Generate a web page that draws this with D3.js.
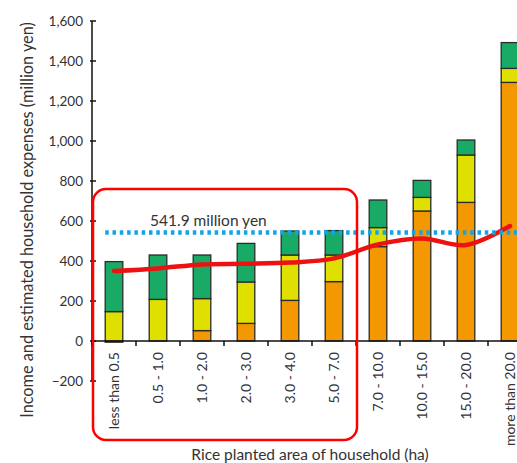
<!DOCTYPE html>
<html>
<head>
<meta charset="utf-8">
<style>
  body { margin: 0; background: #fff; }
  text { font-family: Lato, "Open Sans", sans-serif; fill: #333; }
</style>
</head>
<body>
<script src="https://cdn.jsdelivr.net/npm/d3@7"></script>
<script>
  // categories (rice planted area, ha)
  const categories = ['less than 0.5', '0.5 - 1.0', '1.0 - 2.0', '2.0 - 3.0', '3.0 - 4.0',
    '5.0 - 7.0', '7.0 - 10.0', '10.0 - 15.0', '15.0 - 20.0', 'more than 20.0'];

  // stacked income parts (million yen), bottom to top
  const partA = [-6, 0, 52, 88, 203, 297, 472, 650, 693, 1293];
  const partB = [147, 208, 160, 207, 227, 133, 95, 68, 237, 70];
  const partC = [250, 222, 218, 193, 120, 122, 138, 85, 75, 129];

  // estimated household expenses (million yen)
  const expenses = [350, 363, 383, 386, 392, 413, 483, 513, 480, 575];

  const refValue = 541.9;
  const refLabel = '541.9 million yen';
  const yTicks = [-200, 0, 200, 400, 600, 800, 1000, 1200, 1400, 1600];

  const W = 517, H = 463;
  const svg = d3.select('body').append('svg')
    .attr('width', W).attr('height', H);

  const x = d3.scaleBand().domain(categories).range([92, 532]).paddingInner(0.6).paddingOuter(0.3);
  const y = d3.scaleLinear().domain([-200, 1600]).range([381, 21]);

  const keys = ['partA', 'partB', 'partC'];
  const colors = { partA: '#f39800', partB: '#dfdf00', partC: '#19aa66' };
  const table = categories.map((c, i) => ({ cat: c, partA: partA[i], partB: partB[i], partC: partC[i] }));
  const stack = d3.stack().keys(keys).offset(d3.stackOffsetDiverging)(table);

  // bars
  svg.append('g').selectAll('g').data(stack).join('g')
    .attr('fill', d => colors[d.key])
    .selectAll('rect').data(d => d).join('rect')
      .attr('x', d => x(d.data.cat))
      .attr('width', x.bandwidth())
      .attr('y', d => y(Math.max(d[0], d[1])))
      .attr('height', d => Math.abs(y(d[0]) - y(d[1])))
      .attr('stroke', '#2b2b2b')
      .attr('stroke-width', 1.3);

  // y axis
  const yAxis = svg.append('g').attr('transform', 'translate(92,0)');
  yAxis.append('line').attr('y1', y(1600)).attr('y2', y(-200))
    .attr('stroke', '#111').attr('stroke-width', 1.5);
  yAxis.selectAll('.tk').data(yTicks).join('line')
    .attr('x1', -2).attr('x2', 4)
    .attr('y1', d => y(d)).attr('y2', d => y(d))
    .attr('stroke', '#111').attr('stroke-width', 1.5);
  yAxis.selectAll('text').data(yTicks).join('text')
    .attr('x', -9).attr('y', d => y(d)).attr('dy', '0.35em')
    .attr('text-anchor', 'end').style('font-size', '13.5px')
    .text(d3.format(','));

  // x axis at zero
  const xAxis = svg.append('g');
  xAxis.append('line').attr('x1', 92).attr('x2', W).attr('y1', y(0)).attr('y2', y(0))
    .attr('stroke', '#111').attr('stroke-width', 1.5);
  xAxis.selectAll('.tk').data(d3.range(categories.length + 1)).join('line')
    .attr('x1', i => 92 + i * x.step()).attr('x2', i => 92 + i * x.step())
    .attr('y1', y(0)).attr('y2', y(0) + 5)
    .attr('stroke', '#111').attr('stroke-width', 1.5);
  xAxis.selectAll('text').data(categories).join('text')
    .attr('transform', d => `translate(${x(d) + x.bandwidth() / 2},${y(0) + 11}) rotate(-90)`)
    .attr('dy', '0.35em').attr('text-anchor', 'end').style('font-size', '14px')
    .text(d => d);

  // expenses line
  const line = d3.line()
    .x((d, i) => x(categories[i]) + x.bandwidth() / 2)
    .y(d => y(d))
    .curve(d3.curveCatmullRom);
  svg.append('path').attr('d', line(expenses))
    .attr('fill', 'none').attr('stroke', '#ee1111').attr('stroke-width', 4.5)
    .attr('stroke-linecap', 'round');

  // reference dotted line
  svg.append('line')
    .attr('x1', x(categories[0])).attr('x2', W)
    .attr('y1', y(refValue)).attr('y2', y(refValue))
    .attr('stroke', '#13a4e6').attr('stroke-width', 4.5)
    .attr('stroke-dasharray', '3.5,3.8');
  svg.append('text')
    .attr('x', 150).attr('y', 226)
    .style('font-size', '15.5px').text(refLabel);

  // highlight box
  svg.append('rect')
    .attr('x', 93).attr('y', 189).attr('width', 264).attr('height', 251)
    .attr('rx', 13).attr('fill', 'none')
    .attr('stroke', '#ff0000').attr('stroke-width', 2.5);

  // axis titles
  svg.append('text')
    .attr('transform', `translate(27,${(y(1600) + y(-200)) / 2 + 19}) rotate(-90)`)
    .attr('text-anchor', 'middle').attr('dy', '0.35em')
    .style('font-size', '16.3px')
    .text('Income and estimated household expenses (million yen)');
  svg.append('text')
    .attr('x', 310).attr('y', 455).attr('dy', '0.35em')
    .attr('text-anchor', 'middle').style('font-size', '15.5px')
    .text('Rice planted area of household (ha)');
</script>
</body>
</html>
